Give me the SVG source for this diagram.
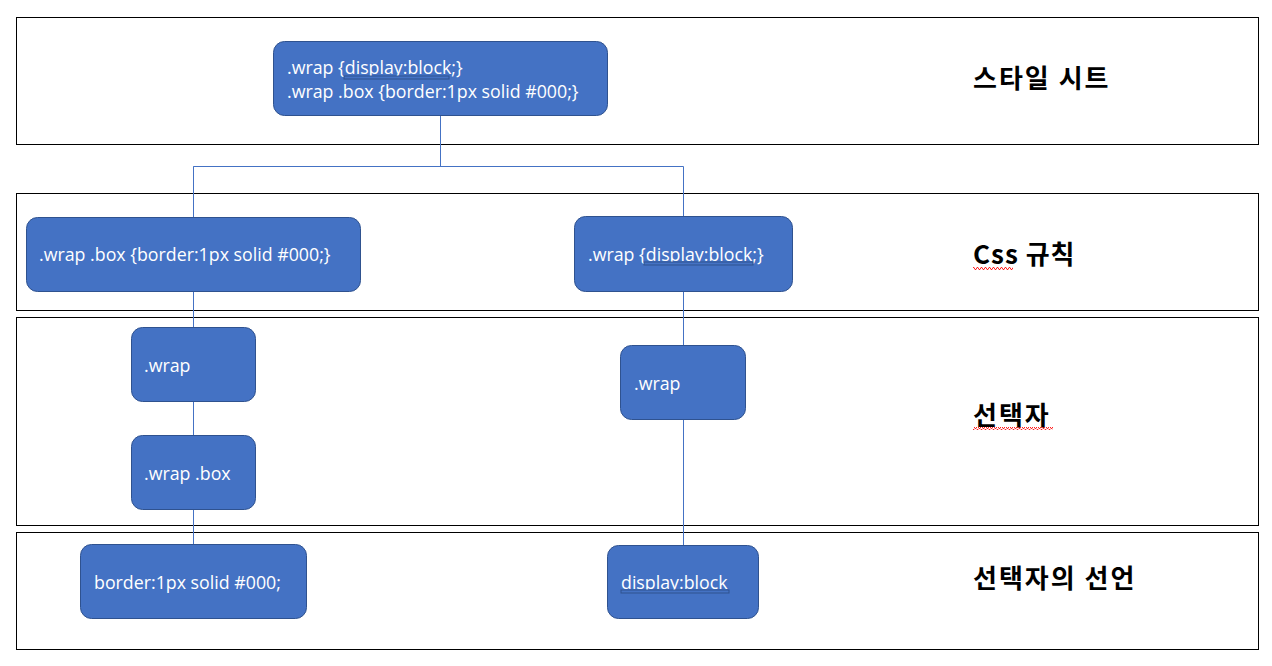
<svg xmlns="http://www.w3.org/2000/svg" width="1272" height="666" viewBox="0 0 1272 666">
<defs>
<style>
.band{fill:#fff;stroke:#000;stroke-width:1}
.node rect{fill:#4472C4;stroke:#2F528F;stroke-width:1}
.node text{fill:#fff;font-family:"Open Sans","Noto Sans",sans-serif;font-size:17.8px}
.lbl{fill:#000;font-family:"Noto Sans CJK KR","Noto Sans",sans-serif;font-size:26px;font-weight:bold;letter-spacing:2px}
.conn{fill:none;stroke:#4472C4;stroke-width:1}
</style>
<pattern id="wv" width="4" height="3" patternUnits="userSpaceOnUse"><path d="M0,2.5 L1,0.5 L2,0.5 L3,2.5 L4,2.5" fill="none" stroke="#FF2020" stroke-width="1"/></pattern>
</defs>
<rect width="1272" height="666" fill="#fff"/>
<g id="bands">
<rect class="band" x="16.5" y="17.5" width="1242" height="127"/>
<rect class="band" x="16.5" y="193.5" width="1242" height="117"/>
<rect class="band" x="16.5" y="317.5" width="1242" height="208"/>
<rect class="band" x="16.5" y="532.5" width="1242" height="117"/>
</g>
<g id="connectors">
<path class="conn" d="M440.5,115 V166.5 H193.5 V544 M193.5,166.5 H683.5 V545"/>
</g>
<g id="n-stylesheet" class="node">
<rect x="273.5" y="41.5" width="334" height="74" rx="11"/>
<text x="287" y="74">.wrap {display:block;}</text>
<text x="287" y="98">.wrap .box {border:1px solid #000;}</text>
<rect x="344" y="76" width="105" height="3" fill="url(#wv)"/>
</g>
<g id="n-rule-box" class="node">
<rect x="26.5" y="217.5" width="334" height="74" rx="11"/>
<text x="39" y="261">.wrap .box {border:1px solid #000;}</text>
</g>
<g id="n-rule-wrap" class="node">
<rect x="574.5" y="216.5" width="218" height="75" rx="11"/>
<text x="588" y="261">.wrap {display:block;}</text>
<rect x="644" y="262" width="109" height="3" fill="url(#wv)"/>
</g>
<g id="n-sel-wrap-l" class="node">
<rect x="131.5" y="327.5" width="124" height="74" rx="11"/>
<text x="144" y="372">.wrap</text>
</g>
<g id="n-sel-wrapbox" class="node">
<rect x="131.5" y="435.5" width="124" height="74" rx="11"/>
<text x="144" y="480">.wrap .box</text>
</g>
<g id="n-sel-wrap-r" class="node">
<rect x="620.5" y="345.5" width="125" height="74" rx="11"/>
<text x="634" y="390">.wrap</text>
</g>
<g id="n-decl-border" class="node">
<rect x="80.5" y="544.5" width="226" height="74" rx="11"/>
<text x="94" y="589">border:1px solid #000;</text>
</g>
<g id="n-decl-display" class="node">
<rect x="607.5" y="545.5" width="151" height="73" rx="11"/>
<text x="621" y="589">display:block</text>
<rect x="621" y="590" width="108" height="3" fill="url(#wv)"/>
</g>
<g id="labels">
<text class="lbl" x="973" y="88">스타일 시트</text>
<text class="lbl" x="973" y="264" style="letter-spacing:1px">Css 규칙</text>
<rect x="973" y="267" width="40" height="3" fill="url(#wv)"/>
<text class="lbl" x="973" y="425">선택자</text>
<rect x="973" y="427" width="80" height="3" fill="url(#wv)"/>
<text class="lbl" x="973" y="588">선택자의 선언</text>
</g>
</svg>
